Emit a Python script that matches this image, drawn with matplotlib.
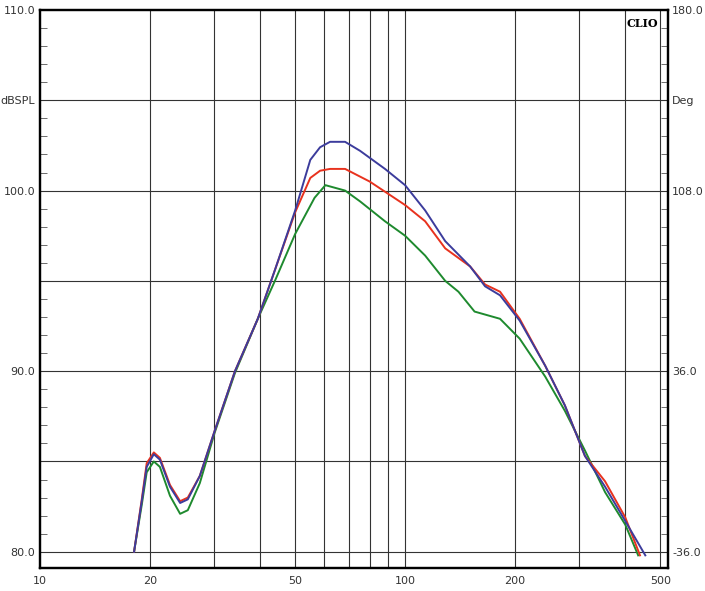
import matplotlib
matplotlib.use("Agg")
import matplotlib.pyplot as plt
from matplotlib.ticker import FixedLocator, NullFormatter

blue_f = [18.1, 19.0, 19.6, 20.5, 21.3, 22.7, 24.2, 25.4, 27.4, 30.1, 34.2, 39.5, 44.0, 50.0, 55.0, 58.5, 62.3, 68.5, 75.3, 88.1, 100, 113.5, 128.8, 150.7, 165.6, 182, 206, 242, 274, 311, 353, 401, 455]
blue_db = [80.0, 82.8, 84.7, 85.4, 85.1, 83.6, 82.7, 82.9, 84.2, 86.7, 90.0, 92.9, 95.6, 98.9, 101.7, 102.4, 102.7, 102.7, 102.2, 101.2, 100.3, 98.9, 97.2, 95.8, 94.7, 94.2, 92.8, 90.3, 88.1, 85.3, 83.6, 81.7, 79.8]

red_f = [18.1, 19.0, 19.6, 20.5, 21.3, 22.7, 24.2, 25.4, 27.4, 30.1, 34.2, 39.5, 44.0, 50.0, 55.0, 58.5, 62.3, 68.5, 80, 100, 113.5, 128.8, 150.7, 165.6, 182, 206, 242, 274, 311, 353, 401, 440]
red_db = [80.0, 82.9, 84.9, 85.5, 85.2, 83.7, 82.8, 83.0, 84.2, 86.7, 90.0, 92.9, 95.6, 98.8, 100.7, 101.1, 101.2, 101.2, 100.5, 99.2, 98.3, 96.8, 95.8, 94.8, 94.4, 92.9, 90.3, 88.1, 85.3, 83.9, 81.9, 79.8]

green_f = [18.1, 19.0, 19.6, 20.5, 21.3, 22.7, 24.2, 25.4, 27.4, 30.1, 34.2, 39.5, 44.0, 50.0, 56.5, 60.5, 68.5, 75.3, 88.1, 100, 113.5, 128.8, 140, 155, 182, 206, 242, 274, 311, 353, 401, 435]
green_db = [80.0, 82.6, 84.4, 85.0, 84.7, 83.1, 82.1, 82.3, 83.8, 86.6, 89.9, 92.9, 95.0, 97.6, 99.6, 100.3, 100.0, 99.4, 98.3, 97.5, 96.4, 95.0, 94.4, 93.3, 92.9, 91.8, 89.7, 87.8, 85.6, 83.3, 81.5, 79.8]

x_ticks = [10, 20, 50, 100, 200, 500]
x_grid = [20, 30, 40, 50, 60, 70, 80, 90, 100, 200, 300, 400, 500]
y_ticks = [80, 85, 90, 95, 100, 105, 110]
left_labels = ["80.0", "", "90.0", "", "100.0", "dBSPL", "110.0"]
right_labels = ["-36.0", "", "36.0", "", "108.0", "Deg", "180.0"]

fig = plt.figure(figsize=(7.05, 5.91), dpi=100)
ax = fig.add_axes([40/705, 23/591, 628/705, 558/591])
ax.set_xscale("log")
ax.set_xlim(10, 525)
ax.set_ylim(79.1, 110)

for f in x_grid:
    ax.axvline(f, color="#333333", lw=0.8, zorder=1)
for y in y_ticks[:-1]:
    ax.axhline(y, color="#333333", lw=0.8, zorder=1)

ax.plot(green_f, green_db, color="#1e8a2e", lw=1.4, zorder=3)
ax.plot(red_f, red_db, color="#e8321e", lw=1.4, zorder=4)
ax.plot(blue_f, blue_db, color="#3c3c9c", lw=1.4, zorder=5)

ax.xaxis.set_major_locator(FixedLocator(x_ticks))
ax.xaxis.set_minor_locator(FixedLocator([]))
ax.xaxis.set_minor_formatter(NullFormatter())
ax.set_xticklabels([str(t) for t in x_ticks])
ax.set_yticks(y_ticks)
ax.set_yticklabels(left_labels)
ax.tick_params(axis="both", length=0, labelsize=8, colors="#333333")
ax.tick_params(axis="x", pad=6)

ax2 = ax.twinx()
ax2.set_ylim(ax.get_ylim())
ax2.set_yticks(y_ticks)
ax2.set_yticklabels(right_labels)
ax2.set_yticks([v for v in range(80, 110) if v % 5 != 0], minor=True)
ax2.tick_params(axis="y", which="major", length=0, labelsize=8, colors="#333333", pad=3)
ax2.tick_params(axis="y", which="minor", direction="in", length=5, color="#555555")
ax.set_yticks([v for v in range(80, 110) if v % 5 != 0], minor=True)
ax.tick_params(axis="y", which="minor", direction="in", length=5, color="#555555")

for a in (ax, ax2):
    for s in a.spines.values():
        s.set_linewidth(1.6)
        s.set_color("black")

ax.text(0.985, 0.985, "CLIO", transform=ax.transAxes, ha="right", va="top",
        fontsize=8, fontweight="bold", family="DejaVu Serif")

fig.savefig("out.png", dpi=100, facecolor="white")
